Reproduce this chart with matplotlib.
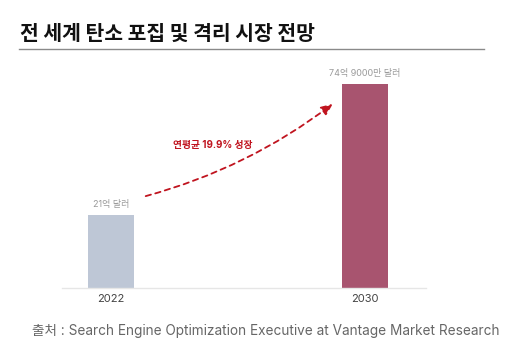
import matplotlib
matplotlib.use('Agg')
import matplotlib.pyplot as plt

plt.rcParams['font.family'] = ['Noto Sans CJK KR', 'DejaVu Sans']
latin = ['Inter', 'Noto Sans CJK KR']

years = ['2022', '2030']
values = [2.1, 7.49]  # 억 달러 / 10
value_labels = ['21억 달러', '74억 9000만 달러']
bar_colors = ['#BEC7D6', '#A8546F']
growth_text = '연평균 19.9% 성장'
title = '전 세계 탄소 포집 및 격리 시장 전망'
source = '출처 : Search Engine Optimization Executive at Vantage Market Research'

W, H = 517, 351
fig = plt.figure(figsize=(W / 100, H / 100), dpi=100)

# title + rule
fig.text(20 / W, 1 - 33 / H, title, fontsize=14.7, fontweight='bold',
         color='#111111', va='center', ha='left')
fig.add_artist(plt.Line2D([19 / W, 484 / W], [1 - 49 / H, 1 - 49 / H],
                          color='#8a8a8a', linewidth=1))

# bar area
base = -0.9
ax = fig.add_axes([62 / W, 63 / H, 364 / W, 228 / H])
x = [0, 1]
heights = [v - base for v in values]
ax.bar(x, heights, bottom=base, width=0.181, color=bar_colors)
ax.set_xlim(-0.193, 1.24)
ax.set_ylim(base, 8.48)
for s in ['top', 'right', 'left']:
    ax.spines[s].set_visible(False)
ax.spines['bottom'].set_color('#e6e6e6')
ax.spines['bottom'].set_linewidth(1)
ax.set_yticks([])
ax.set_xticks(x)
ax.set_xticklabels(years, fontsize=8, color='#444444', family=latin)
ax.tick_params(axis='x', length=0, pad=4)

for xi, v, lab in zip(x, values, value_labels):
    ax.text(xi, v + 0.25, lab, ha='center', va='bottom', fontsize=6.5,
            color='#9a9a9a', family=latin)

# growth arrow
ax.annotate('', xy=(0.882, 6.75), xytext=(0.126, 2.85),
            arrowprops=dict(arrowstyle='-|>,head_length=0.7,head_width=0.3',
                            linestyle=(0, (3, 2.5)), color='#C0141F',
                            linewidth=1.3, connectionstyle='arc3,rad=0.1'))
ax.text(0.40, 5.0, growth_text, ha='center', va='center', fontsize=7,
        color='#C0141F', fontweight='bold', family=latin)

fig.text(32 / W, 1 - 331 / H, source, fontsize=9.8, color='#666666',
         va='center', ha='left', family=latin)

fig.savefig('out.png', dpi=100)
